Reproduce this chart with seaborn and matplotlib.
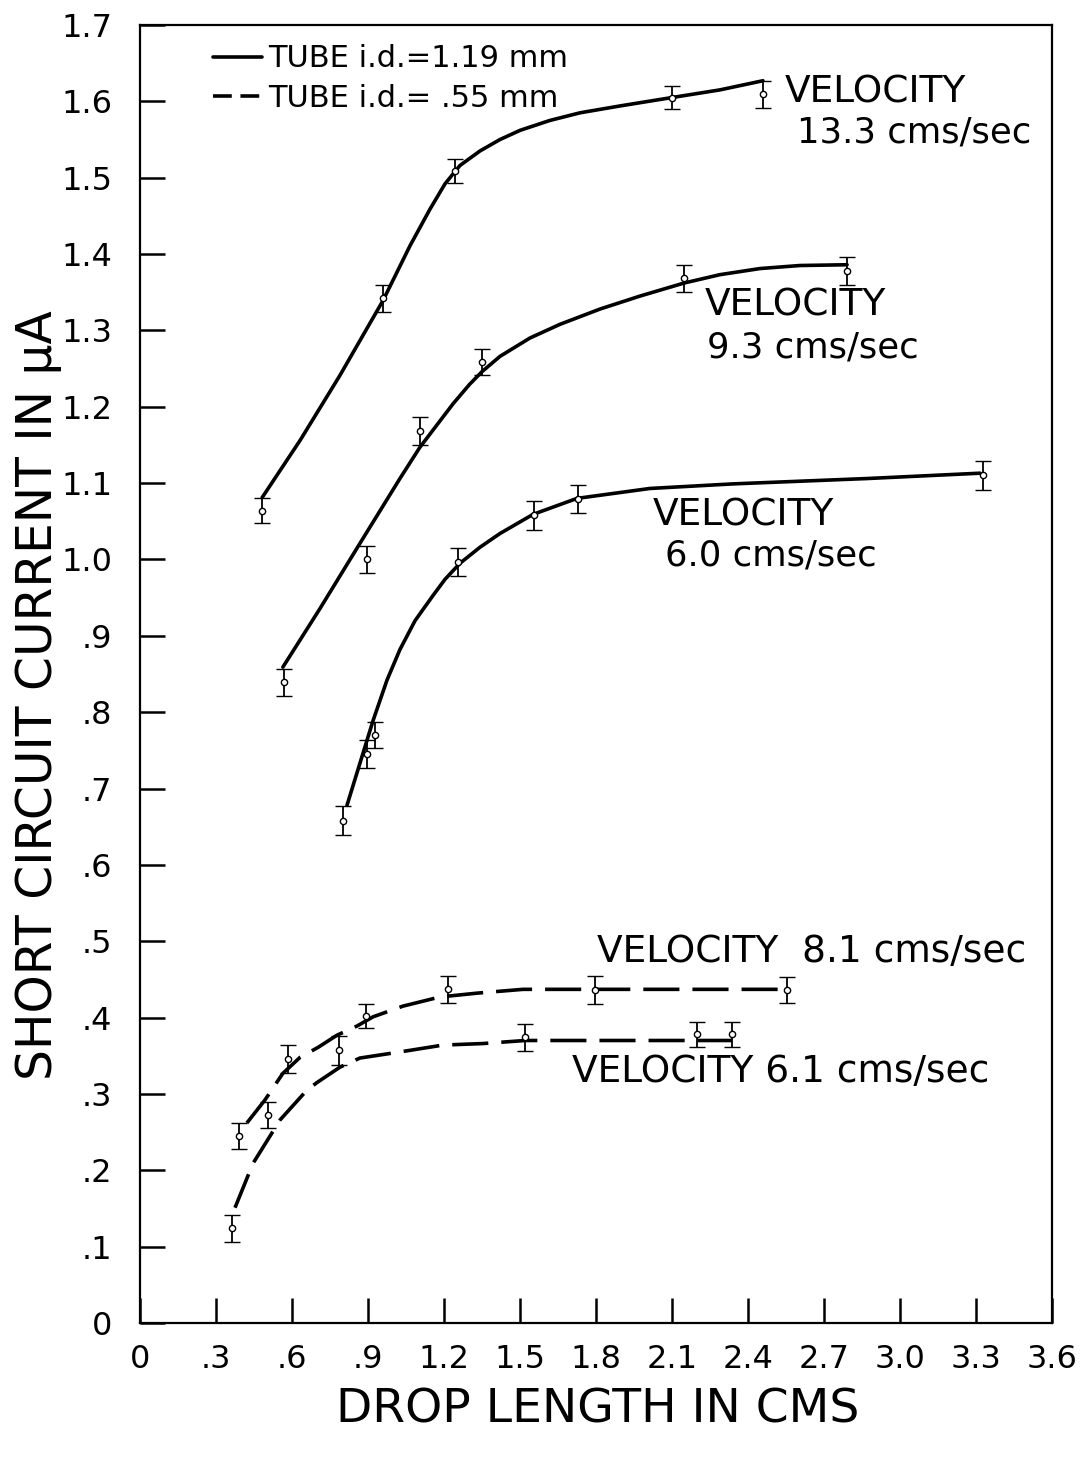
import matplotlib
matplotlib.use("Agg")
import matplotlib.pyplot as plt
from matplotlib.lines import Line2D
import pandas as pd
import seaborn as sns

# ---------------- data ----------------
x_ticks = [0.0, 0.3, 0.6, 0.9, 1.2, 1.5, 1.8, 2.1, 2.4, 2.7, 3.0, 3.3, 3.6]
x_tick_labels = ["0", ".3", ".6", ".9", "1.2", "1.5", "1.8", "2.1", "2.4",
                 "2.7", "3.0", "3.3", "3.6"]
y_ticks = [0.0, 0.1, 0.2, 0.3, 0.4, 0.5, 0.6, 0.7, 0.8, 0.9, 1.0,
           1.1, 1.2, 1.3, 1.4, 1.5, 1.6, 1.7]
y_tick_labels = ["0", ".1", ".2", ".3", ".4", ".5", ".6", ".7", ".8", ".9",
                 "1.0", "1.1", "1.2", "1.3", "1.4", "1.5", "1.6", "1.7"]

# measured points (tube i.d. 1.19 mm)
v133_x = [0.482, 0.959, 1.243, 2.100, 2.459]
v133_y = [1.064, 1.342, 1.509, 1.605, 1.609]
v133_e = [0.016, 0.018, 0.016, 0.015, 0.018]

v93_x = [0.568, 0.896, 1.105, 1.350, 2.147, 2.791]
v93_y = [0.839, 1.000, 1.168, 1.259, 1.368, 1.378]
v93_e = [0.018, 0.018, 0.018, 0.017, 0.018, 0.018]

v60_x = [0.801, 0.896, 0.928, 1.255, 1.555, 1.729, 3.328]
v60_y = [0.658, 0.745, 0.770, 0.997, 1.058, 1.079, 1.110]
v60_e = [0.019, 0.018, 0.017, 0.018, 0.019, 0.018, 0.019]

# measured points (tube i.d. .55 mm)
v81_x = [0.391, 0.584, 0.892, 1.216, 1.796, 2.554]
v81_y = [0.245, 0.346, 0.402, 0.437, 0.436, 0.436]
v81_e = [0.017, 0.018, 0.016, 0.018, 0.018, 0.017]

v61_x = [0.363, 0.505, 0.786, 1.520, 2.199, 2.337]
v61_y = [0.124, 0.272, 0.357, 0.374, 0.378, 0.378]
v61_e = [0.018, 0.017, 0.019, 0.018, 0.016, 0.016]

# hand-drawn fitted curves
c133_x = [0.482, 0.632, 0.789, 0.959, 1.066, 1.145, 1.204, 1.263, 1.342,
          1.421, 1.500, 1.618, 1.737, 1.895, 2.100, 2.289, 2.459]
c133_y = [1.081, 1.156, 1.241, 1.339, 1.411, 1.459, 1.492, 1.516, 1.535,
          1.550, 1.562, 1.575, 1.585, 1.594, 1.605, 1.615, 1.627]

c93_x = [0.564, 0.711, 0.868, 1.026, 1.105, 1.236, 1.300, 1.350, 1.421,
         1.539, 1.658, 1.816, 1.974, 2.147, 2.289, 2.447, 2.605, 2.791]
c93_y = [0.859, 0.936, 1.021, 1.106, 1.147, 1.204, 1.229, 1.246, 1.266,
         1.290, 1.308, 1.328, 1.345, 1.362, 1.373, 1.381, 1.385, 1.386]

c60_x = [0.817, 0.920, 0.975, 1.026, 1.086, 1.157, 1.204, 1.263, 1.342,
         1.421, 1.551, 1.725, 2.013, 2.341, 2.870, 3.316]
c60_y = [0.678, 0.789, 0.842, 0.882, 0.920, 0.953, 0.974, 0.995, 1.016,
         1.034, 1.059, 1.080, 1.093, 1.099, 1.106, 1.113]

c81_x = [0.422, 0.493, 0.564, 0.632, 0.703, 0.778, 0.857, 0.920, 1.038,
         1.184, 1.330, 1.512, 1.796, 2.554]
c81_y = [0.262, 0.292, 0.327, 0.348, 0.361, 0.377, 0.389, 0.401, 0.415,
         0.427, 0.432, 0.437, 0.437, 0.437]

c61_x = [0.375, 0.446, 0.553, 0.659, 0.699, 0.789, 0.868, 1.026, 1.196,
         1.354, 1.520, 1.816, 2.337]
c61_y = [0.151, 0.209, 0.266, 0.305, 0.315, 0.335, 0.347, 0.355, 0.364,
         0.366, 0.370, 0.370, 0.370]

legend_labels = ["TUBE i.d.=1.19 mm", "TUBE i.d.= .55 mm"]

# ---------------- figure ----------------
sns.set_theme(style="white")
plt.rcParams["font.family"] = ["DejaVu Sans"]
plt.rcParams["text.color"] = "black"
plt.rcParams["axes.labelcolor"] = "black"
plt.rcParams["xtick.color"] = "black"
plt.rcParams["ytick.color"] = "black"

fig = plt.figure(figsize=(10.89, 14.57), dpi=100)
ax = fig.add_axes([140 / 1089, 1 - 1323 / 1457, 912 / 1089, 1298 / 1457])
ax.set_facecolor("white")

LW = 2.6
solid_sets = [(c133_x, c133_y), (c93_x, c93_y), (c60_x, c60_y)]
dashed_sets = [(c81_x, c81_y), (c61_x, c61_y)]

for cx, cy in solid_sets:
    df = pd.DataFrame({"x": cx, "y": cy})
    sns.lineplot(data=df, x="x", y="y", sort=False, estimator=None,
                 color="black", linewidth=LW, ax=ax)
    ax.lines[-1].set_solid_joinstyle("round")
for cx, cy in dashed_sets:
    df = pd.DataFrame({"x": cx, "y": cy})
    sns.lineplot(data=df, x="x", y="y", sort=False, estimator=None,
                 color="black", linewidth=LW, ax=ax)
    ax.lines[-1].set_dashes((10, 3.6))

point_sets = [(v133_x, v133_y, v133_e), (v93_x, v93_y, v93_e),
              (v60_x, v60_y, v60_e), (v81_x, v81_y, v81_e),
              (v61_x, v61_y, v61_e)]
for px, py, pe in point_sets:
    ax.errorbar(px, py, yerr=pe, fmt="o", color="black", ms=4.5,
                mfc="white", mec="black", mew=1.0, ecolor="black",
                elinewidth=1.3, capsize=5.5, capthick=2.8, zorder=5)

# axes styling
ax.set_xlim(0, 3.6)
ax.set_ylim(0, 1.7)
ax.set_xticks(x_ticks)
ax.set_xticklabels(x_tick_labels)
ax.set_yticks(y_ticks)
ax.set_yticklabels(y_tick_labels)
ax.tick_params(axis="both", which="major", direction="in", length=18,
               width=1.8, color="black", labelcolor="black", labelsize=23,
               bottom=True, left=True, top=False, right=False)
ax.tick_params(axis="y", pad=20)
ax.tick_params(axis="x", pad=15)
for sp in ax.spines.values():
    sp.set_visible(True)
    sp.set_color("black")
    sp.set_linewidth(1.6)
ax.grid(False)

ax.set_xlabel("DROP LENGTH IN CMS", fontsize=34, color="black", va="center")
ax.xaxis.set_label_coords(0.502, -0.067)
ax.set_ylabel("SHORT CIRCUIT CURRENT IN μA", fontsize=35, color="black",
              va="center")
ax.yaxis.set_label_coords(-0.112, 0.484)

# legend
handles = [Line2D([0], [0], color="black", lw=LW),
           Line2D([0], [0], color="black", lw=LW, linestyle=(0, (5.2, 2.4)))]
leg = ax.legend(handles, legend_labels, loc="upper left",
                bbox_to_anchor=(0.080, 0.985), frameon=False, fontsize=22,
                handlelength=1.6, handletextpad=0.2, labelspacing=0.33,
                borderpad=0, borderaxespad=0)
for t in leg.get_texts():
    t.set_color("black")

# annotations
FS = 27
FS2 = 25.5
ax.text(2.546, 1.611, "VELOCITY", fontsize=FS, ha="left", va="center",
        color="black")
ax.text(2.593, 1.559, "13.3 cms/sec", fontsize=FS2, ha="left", va="center",
        color="black")
ax.text(2.230, 1.333, "VELOCITY", fontsize=FS, ha="left", va="center",
        color="black")
ax.text(2.240, 1.278, "9.3 cms/sec", fontsize=FS2, ha="left", va="center",
        color="black")
ax.text(2.025, 1.057, "VELOCITY", fontsize=FS, ha="left", va="center",
        color="black")
ax.text(2.072, 1.005, "6.0 cms/sec", fontsize=FS2, ha="left", va="center",
        color="black")
ax.text(1.804, 0.486, "VELOCITY  8.1 cms/sec", fontsize=FS, ha="left",
        va="center", color="black")
ax.text(1.705, 0.329, "VELOCITY 6.1 cms/sec", fontsize=FS, ha="left",
        va="center", color="black")

fig.savefig("out.png", dpi=100, facecolor="white")
